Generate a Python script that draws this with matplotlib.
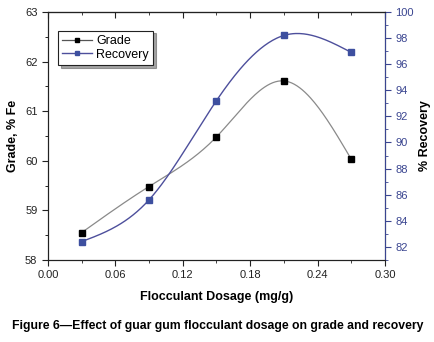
import numpy as np
import matplotlib
matplotlib.use("Agg")
import matplotlib.pyplot as plt
from matplotlib.ticker import MultipleLocator
from matplotlib.lines import Line2D

plt.rcParams['font.family'] = ['Liberation Sans', 'DejaVu Sans']

dosage = [0.03, 0.09, 0.15, 0.21, 0.27]
grade = [58.55, 59.48, 60.48, 61.61, 60.03]
recovery = [82.4, 85.6, 93.2, 98.2, 96.9]

def natural_spline(x, y, n=200):
    x = np.asarray(x, float); y = np.asarray(y, float)
    k = len(x)
    h = np.diff(x)
    A = np.zeros((k, k)); b = np.zeros(k)
    A[0, 0] = 1; A[-1, -1] = 1
    for i in range(1, k - 1):
        A[i, i - 1] = h[i - 1]; A[i, i] = 2 * (h[i - 1] + h[i]); A[i, i + 1] = h[i]
        b[i] = 3 * ((y[i + 1] - y[i]) / h[i] - (y[i] - y[i - 1]) / h[i - 1])
    c = np.linalg.solve(A, b)
    xs = np.linspace(x[0], x[-1], n)
    ys = np.empty_like(xs)
    for j, xv in enumerate(xs):
        i = min(np.searchsorted(x, xv, side='right') - 1, k - 2)
        bi = (y[i + 1] - y[i]) / h[i] - h[i] * (2 * c[i] + c[i + 1]) / 3
        di = (c[i + 1] - c[i]) / (3 * h[i])
        dx = xv - x[i]
        ys[j] = y[i] + bi * dx + c[i] * dx ** 2 + di * dx ** 3
    return xs, ys

blue = '#3d4f9f'
axblue = '#3a4590'

fig = plt.figure(figsize=(4.35, 3.42), dpi=100)
ax = fig.add_axes([0.110, 0.240, 0.775, 0.725])
ax2 = ax.twinx()

gx, gy = natural_spline(dosage, grade)
ax.plot(gx, gy, color='#8a8a8a', lw=0.9)
ax.plot(dosage, grade, 's', color='black', ms=4, ls='none')
rx, ry = natural_spline(dosage, recovery)
ax2.plot(rx, ry, color='#4d4f9c', lw=1.0)
ax2.plot(dosage, recovery, 's', color=blue, ms=4, ls='none')

ax.set_xlim(0, 0.30)
ax.set_ylim(58, 63)
ax2.set_ylim(81, 100)
ax.set_xticks([0.00, 0.06, 0.12, 0.18, 0.24, 0.30])
ax.set_xticklabels(['0.00', '0.06', '0.12', '0.18', '0.24', '0.30'])
ax.xaxis.set_minor_locator(MultipleLocator(0.03))
ax.yaxis.set_major_locator(MultipleLocator(1))
ax.yaxis.set_minor_locator(MultipleLocator(0.5))
ax2.set_yticks(range(82, 101, 2))
ax2.yaxis.set_minor_locator(MultipleLocator(1))

ax.tick_params(axis='x', which='both', direction='out', labelsize=8, colors='#222222')
ax.tick_params(axis='x', which='major', length=4)
ax.tick_params(axis='x', which='minor', length=2)
ax.tick_params(axis='y', which='major', direction='out', length=4, labelsize=8, colors='#222222')
ax.tick_params(axis='y', which='minor', direction='out', length=2)
ax2.tick_params(axis='y', which='major', direction='out', length=4, labelsize=8, colors=axblue)
ax2.tick_params(axis='y', which='minor', direction='out', length=2, colors=axblue)
ax2.spines['right'].set_color(axblue)
for s in ['left', 'bottom', 'top']:
    ax.spines[s].set_color('#222222')
    ax2.spines[s].set_color('#222222')

# inward ticks along the top spine
sec = ax.secondary_xaxis('top')
sec.set_xticks([0.00, 0.06, 0.12, 0.18, 0.24, 0.30])
sec.xaxis.set_minor_locator(MultipleLocator(0.03))
sec.tick_params(axis='x', which='both', direction='in', labeltop=False, colors='#222222')
sec.tick_params(axis='x', which='major', length=4)
sec.tick_params(axis='x', which='minor', length=2)

ax.set_xlabel('Flocculant Dosage (mg/g)', fontsize=9, fontweight='bold', labelpad=8)
ax.set_ylabel('Grade, % Fe', fontsize=9, fontweight='bold', labelpad=4)
ax2.set_ylabel('% Recovery', fontsize=9, fontweight='bold', labelpad=4)

h1 = Line2D([], [], color='#555555', lw=0.9, marker='s', mfc='black', mec='black', ms=3)
h2 = Line2D([], [], color='#4d4f9c', lw=1.0, marker='s', mfc=blue, mec=blue, ms=3)
leg = ax.legend([h1, h2], ['Grade', 'Recovery'], loc='upper left', bbox_to_anchor=(0.03, 0.925),
                borderaxespad=0, fontsize=9, frameon=True, fancybox=False, shadow=True,
                handlelength=2.4, borderpad=0.35, labelspacing=0.15, handletextpad=0.3)
leg.get_frame().set_edgecolor('#222222')
leg.get_frame().set_linewidth(0.8)

fig.text(0.5, 0.047, 'Figure 6\u2014Effect of guar gum flocculant dosage on grade and recovery',
         ha='center', va='center', fontsize=8.8, fontweight='bold')

fig.savefig('out.png', dpi=100)
